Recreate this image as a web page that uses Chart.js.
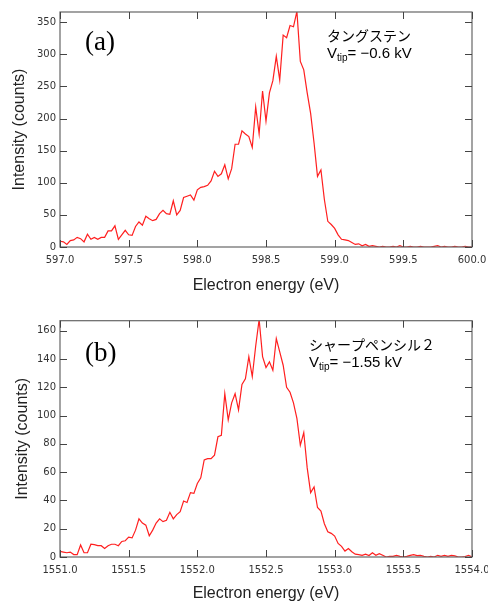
<!DOCTYPE html>
<html>
<head>
<meta charset="utf-8">
<script src="https://cdn.jsdelivr.net/npm/chart.js@4.4.1/dist/chart.umd.min.js"></script>
<style>
  html, body { margin: 0; padding: 0; background: #fff; overflow: hidden; }
  #wrapA { position: absolute; left: 0; top: 0; width: 488px; height: 300px; }
  #wrapB { position: absolute; left: 0; top: 300px; width: 488px; height: 304px; }
</style>
</head>
<body>
<div id="wrapA"><canvas id="chartA" width="488" height="300"></canvas></div>
<div id="wrapB"><canvas id="chartB" width="488" height="304"></canvas></div>
<script>
// ---- Panel (a): タングステン, Vtip = -0.6 kV ----
const energyStartA = 597.0;
const energyStepA = 0.025;
const intensityA = [
  9, 8, 4, 10, 11, 15, 13, 8, 20, 12,
  15, 12, 15, 15, 25, 25, 33, 12, 19, 26,
  19, 18, 32, 39, 34, 48, 44, 41, 43, 52,
  57, 52, 51, 72, 50, 57, 77, 79, 81, 73,
  89, 93, 94, 96, 103, 118, 110, 114, 128, 106,
  122, 160, 160, 181, 176, 172, 155, 218, 176, 243,
  196, 240, 259, 297, 260, 330, 326, 345, 343, 367,
  289, 276, 240, 208, 162, 110, 120, 74, 40, 35,
  29, 19, 12, 11, 10, 7, 4, 5, 2, 4,
  1, 2, 1, 0, 1, 0, 0, 1, 0, 2,
  0, 0, 1, 0, 0, 1, 0, 0, 0, 1,
  2, 0, 1, 0, 0, 1, 0, 0, 1, 0, 0
];
const xTicksA = [597.0, 597.5, 598.0, 598.5, 599.0, 599.5, 600.0];
const yTicksA = [0, 50, 100, 150, 200, 250, 300, 350];

// ---- Panel (b): シャープペンシル２, Vtip = -1.55 kV ----
const energyStartB = 1551.0;
const energyStepB = 0.025;
const intensityB = [
  4, 3.5, 3, 3.5, 1.7, 1.7, 8.5, 3, 3, 9,
  8.7, 8, 8, 6, 8, 9, 9, 8, 11, 11.5,
  14, 13.5, 19, 27, 24, 22.5, 15, 19, 24, 27,
  25, 26, 31.6, 27, 30, 32, 39.6, 38.5, 45.5, 45,
  52, 56, 68.6, 69.5, 69.5, 72, 85, 86, 115.5, 97,
  109, 115.5, 104, 122, 126, 141.7, 127.6, 149.2, 168, 141.7,
  134, 138, 132, 154.5, 145, 135.6, 120, 116.5, 109, 98,
  79, 88, 63, 45.5, 49.5, 35, 32.5, 23.5, 17.9, 16.7,
  14.8, 9.6, 7.5, 4.2, 6, 3.7, 2, 1.7, 1.2, 2,
  1, 3, 1.2, 2.4, 1.2, 0, 0.5, 0.5, 1.2, 0.5,
  0, 0.5, 1.2, 1.7, 1, 1.2, 0.5, 0, 0.5, 0,
  1.2, 0.5, 1.2, 0.5, 1.2, 0.8, 0, 0, 0.3, 1.2, 0
];
const xTicksB = [1551.0, 1551.5, 1552.0, 1552.5, 1553.0, 1553.5, 1554.0];
const yTicksB = [0, 20, 40, 60, 80, 100, 120, 140, 160];

const xTitle = 'Electron energy (eV)';
const yTitle = 'Intensity (counts)';

function toPoints(start, step, values) {
  return values.map((v, i) => ({ x: start + step * i, y: v }));
}

const TICK_LEN = 7;
const frameTicksPlugin = {
  id: 'frameTicks',
  afterDraw(chart, args, opts) {
    const { ctx, chartArea: a, scales: { x, y } } = chart;
    ctx.save();
    ctx.strokeStyle = '#666';
    ctx.lineWidth = 1.2;
    ctx.strokeRect(a.left, a.top, a.right - a.left, a.bottom - a.top);
    ctx.strokeStyle = '#444';
    ctx.lineWidth = 1;
    ctx.beginPath();
    x.ticks.forEach(t => {
      const px = Math.round(x.getPixelForValue(t.value)) + 0.5;
      ctx.moveTo(px, a.bottom); ctx.lineTo(px, a.bottom - TICK_LEN);
      ctx.moveTo(px, a.top); ctx.lineTo(px, a.top + TICK_LEN);
    });
    y.ticks.forEach(t => {
      const py = Math.round(y.getPixelForValue(t.value)) + 0.5;
      ctx.moveTo(a.left, py); ctx.lineTo(a.left + TICK_LEN, py);
      ctx.moveTo(a.right, py); ctx.lineTo(a.right - TICK_LEN, py);
    });
    ctx.stroke();

    // annotations
    const an = opts.annot;
    if (an) {
      ctx.fillStyle = '#000';
      ctx.textBaseline = 'alphabetic';
      ctx.textAlign = 'left';
      ctx.font = '27px "Liberation Serif", "DejaVu Serif", serif';
      ctx.fillText(an.panel, an.panelX, an.panelY);
      ctx.font = '14px "Noto Sans CJK JP", sans-serif';
      ctx.fillText(an.name, an.textX, an.nameY);
      // V_tip line
      let cx = an.textX;
      ctx.font = '15px "Liberation Sans", Arial, sans-serif';
      ctx.fillText('V', cx, an.vY);
      cx += ctx.measureText('V').width;
      ctx.font = '10px "Liberation Sans", Arial, sans-serif';
      ctx.fillText('tip', cx, an.vY + 3);
      cx += ctx.measureText('tip').width;
      ctx.font = '15px "Liberation Sans", Arial, sans-serif';
      ctx.fillText('= \u2212' + an.volt + ' kV', cx, an.vY);
    }
    ctx.restore();
  }
};

function makeChart(canvasId, pts, xMin, xMax, yMax, xTicks, yTicks, layoutPad, xBoxH, xTitlePadB, yTitlePad, annot) {
  return new Chart(document.getElementById(canvasId), {
    type: 'line',
    data: {
      datasets: [{
        data: pts,
        borderColor: '#ff1f1f',
        borderWidth: 1.2,
        pointRadius: 0,
        tension: 0,
        fill: false
      }]
    },
    options: {
      responsive: false,
      animation: false,
      devicePixelRatio: 1,
      layout: { padding: layoutPad },
      plugins: {
        legend: { display: false },
        tooltip: { enabled: false },
        frameTicks: { annot: annot }
      },
      scales: {
        x: {
          type: 'linear',
          min: xMin, max: xMax,
          afterBuildTicks: s => { s.ticks = xTicks.map(v => ({ value: v })); },
          afterFit: s => { s.height = xBoxH; s.paddingLeft = 0; s.paddingRight = 0; },
          grid: { display: false, drawTicks: false },
          border: { display: false },
          ticks: {
            padding: 7, maxRotation: 0, autoSkip: false,
            color: '#333',
            font: { family: '"DejaVu Sans", Verdana, sans-serif', size: 10 },
            callback: v => Number(v).toFixed(1)
          },
          title: {
            display: true, text: xTitle, color: '#222',
            font: { family: '"Liberation Sans", Arial, sans-serif', size: 16 },
            padding: { top: 0, bottom: xTitlePadB }
          }
        },
        y: {
          type: 'linear',
          min: 0, max: yMax,
          afterBuildTicks: s => { s.ticks = yTicks.map(v => ({ value: v })); },
          afterFit: s => { s.width = 60; s.paddingTop = 0; s.paddingBottom = 0; },
          grid: { display: false, drawTicks: false },
          border: { display: false },
          ticks: {
            padding: 4, autoSkip: false,
            color: '#333',
            font: { family: '"DejaVu Sans", Verdana, sans-serif', size: 10 },
            callback: v => String(v)
          },
          title: {
            display: true, text: yTitle, color: '#222',
            font: { family: '"Liberation Sans", Arial, sans-serif', size: 16 },
            padding: { top: yTitlePad, bottom: 0 }
          }
        }
      }
    },
    plugins: [frameTicksPlugin]
  });
}

makeChart('chartA', toPoints(energyStartA, energyStepA, intensityA), 597, 600, 366,
  xTicksA, yTicksA, { left: 0, top: 12, right: 16, bottom: 0 }, 53, 5, 10.4,
  { panel: '(a)', panelX: 85, panelY: 50, name: 'タングステン', textX: 327, nameY: 41, volt: '0.6', vY: 58 });

makeChart('chartB', toPoints(energyStartB, energyStepB, intensityB), 1551, 1554, 167.1,
  xTicksB, yTicksB, { left: 0, top: 20.7, right: 16, bottom: 0 }, 47, 1, 13.4,
  { panel: '(b)', panelX: 85, panelY: 61, name: 'シャープペンシル２', textX: 309, nameY: 50, volt: '1.55', vY: 67 });
</script>
</body>
</html>
